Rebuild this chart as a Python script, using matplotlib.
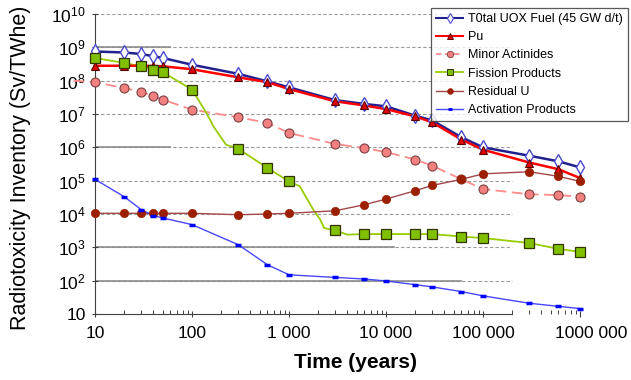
import numpy as np
import matplotlib
matplotlib.use('Agg')
import matplotlib.pyplot as plt
import matplotlib.transforms as mtrans
from matplotlib.lines import Line2D

plt.rcParams['font.family'] = ['Liberation Sans', 'DejaVu Sans']
plt.rcParams['mathtext.fontset'] = 'custom'
plt.rcParams['mathtext.rm'] = 'Liberation Sans'
plt.rcParams['mathtext.default'] = 'regular'

# time points carrying markers (years)
t_mark = [10, 20, 30, 40, 50, 100, 300, 600, 1000, 3000, 6000, 10000,
          20000, 30000, 60000, 100000, 300000, 600000, 1000000]

total = [7.5e8, 7e8, 6.3e8, 5.4e8, 4.8e8, 3e8, 1.6e8, 9.5e7, 6.3e7, 2.6e7,
         2e7, 1.7e7, 8.9e6, 6.4e6, 2e6, 1e6, 5.6e5, 3.8e5, 2.5e5]
pu = [2.8e8, 2.8e8, 2.8e8, 2.75e8, 2.7e8, 2.2e8, 1.26e8, 9e7, 5.6e7, 2.4e7,
      1.8e7, 1.4e7, 8.5e6, 5.6e6, 1.7e6, 8.5e5, 3.5e5, 2.2e5, 1.2e5]
minor_act = [9e7, 6e7, 4.6e7, 3.4e7, 2.7e7, 1.35e7, 8e6, 5.4e6, 2.7e6, 1.26e6,
             9.5e5, 7.2e5, 4.3e5, 2.8e5, 1.1e5, 5.6e4, 3.9e4, 3.7e4, 3.3e4]
fission = [4.8e8, 3.4e8, 2.7e8, 2.1e8, 1.8e8, 5.4e7, 9e5, 2.4e5, 9.5e4, 3.2e3,
           2.5e3, 2.5e3, 2.5e3, 2.5e3, 2.1e3, 1.9e3, 1.35e3, 9e2, 7.3e2]
resid_u = [1.05e4, 1.05e4, 1.05e4, 1.05e4, 1.05e4, 1.05e4, 9.5e3, 1.0e4, 1.05e4,
           1.25e4, 1.9e4, 2.8e4, 5e4, 7.2e4, 1.1e5, 1.6e5, 1.85e5, 1.35e5, 9.5e4]
activation = [1.1e5, 3.3e4, 1.35e4, 9e3, 7.6e3, 4.8e3, 1.2e3, 300, 150, 125,
              112, 98, 76, 65, 47, 35, 21, 17, 14.5]

# fission products curve, with the bends read between markers
t_fission_line = [10, 20, 30, 40, 50, 100, 141, 166, 224, 300, 600, 1000, 1290,
                  1780, 2100, 2300, 3000, 4000, 6000, 10000, 20000, 30000,
                  60000, 100000, 300000, 600000, 1000000]
fission_line = [4.8e8, 3.4e8, 2.7e8, 2.1e8, 1.8e8, 5.4e7, 1.07e7, 4.3e6, 1.2e6,
                9e5, 2.4e5, 9.5e4, 6.8e4, 1.35e4, 6.8e3, 3.8e3, 3.2e3, 2.4e3,
                2.5e3, 2.5e3, 2.5e3, 2.5e3, 2.1e3, 1.9e3, 1.35e3, 9e2, 7.3e2]

legend_labels = ['T0tal UOX Fuel (45 GW d/t)', 'Pu', 'Minor Actinides',
                 'Fission Products', 'Residual U', 'Activation Products']

x_ticks = [10, 100, 1000, 10000, 100000, 1000000]
x_ticklabels = ['10', '100', '1 000', '10 000', '100 000', '1000 000']
y_ticks = [10.0 ** k for k in range(1, 11)]
y_ticklabels = ['10'] + ['10$^{%d}$' % k for k in range(2, 11)]

fig = plt.figure(figsize=(6.31, 3.80), dpi=100)
ax = fig.add_axes([95 / 631, 1 - 314 / 380, 485 / 631, 300 / 380])
ax.set_xscale('log')
ax.set_yscale('log')
ax.set_xlim(10, 1e6)
ax.set_ylim(10, 1e10)

# grid: dashed decade lines, a few solid segments
for k in range(2, 11):
    ax.plot([10, 2e5], [10.0 ** k] * 2, color='#9a9a9a', lw=0.8,
            dashes=(3, 2), zorder=1)
for yv, xe in [(1e9, 60), (1e6, 60), (1e3, 12000), (1e2, 60000)]:
    ax.plot([10, xe], [yv, yv], color='#8c8c8c', lw=1.2, zorder=1.5)

styles = [
    dict(color='#20208f', lw=1.8, marker='d', ms=7, mfc='white', mec='#4a4ad0', mew=1.0),
    dict(color='#ff0000', lw=1.8, marker='^', ms=6, mfc='#e00000', mec='#5a0000', mew=0.8),
    dict(color='#ff8a8a', lw=1.3, marker='o', ms=6.5, mfc='#f28080', mec='#7a4040', mew=0.8,
         dashes=(6, 3)),
    dict(color='#99cc00', lw=1.3, marker='s', ms=6.5, mfc='#80c000', mec='#333300', mew=0.9),
    dict(color='#a34848', lw=1.0, marker='o', ms=6, mfc='#9c2000', mec='#9c2000', mew=0.5),
    dict(color='#4848ff', lw=1.0, marker='_', ms=5, mfc='#0000ff', mec='#0000ff', mew=2.5),
]

# lines
ax.plot(t_mark, total, color=styles[0]['color'], lw=1.8, zorder=3, clip_on=False)
ax.plot(t_mark, pu, color=styles[1]['color'], lw=1.8, zorder=3.1, clip_on=False)
ax.plot([6] + t_mark, [1.0e8] + minor_act, color=styles[2]['color'], lw=1.3,
        dashes=(6, 3), zorder=3, clip_on=False)
ax.plot(t_fission_line, fission_line, color=styles[3]['color'], lw=1.3, zorder=3)
ax.plot(t_mark, resid_u, color=styles[4]['color'], lw=1.0, zorder=3)
ax.plot(t_mark, activation, color=styles[5]['color'], lw=1.0, zorder=3)

# markers
series = [total, pu, minor_act, fission, resid_u, activation]
for i, (vals, st) in enumerate(zip(series, styles)):
    ax.plot(t_mark, vals, linestyle='none', marker=st['marker'], ms=st['ms'],
            mfc=st['mfc'], mec=st['mec'], mew=st['mew'], zorder=4 + i * 0.1,
            clip_on=False)

# axes styling
for s in ['top', 'right']:
    ax.spines[s].set_visible(False)
ax.spines['left'].set_color('#404040')
ax.spines['bottom'].set_color('#404040')
ax.spines['bottom'].set_bounds(10, 2e5)

ax.set_xticks(x_ticks)
ax.set_xticklabels(x_ticklabels)
ax.set_yticks(y_ticks)
ax.set_yticklabels(y_ticklabels)
ax.tick_params(which='major', direction='inout', length=5, width=0.8,
               color='#404040', labelsize=12.5, pad=4)
ax.tick_params(which='minor', direction='in', length=3, width=0.7, color='#404040')
ax.tick_params(axis='x', which='major', pad=6)

lbl = ax.get_xticklabels()[-1]
lbl.set_transform(lbl.get_transform() + mtrans.ScaledTranslation(0.11, 0, fig.dpi_scale_trans))

fig.text(21 / 631, 1 - 168 / 380, 'Radiotoxicity Inventory (Sv/TWhe)', rotation=90,
         ha='center', va='center', fontsize=15.5)
fig.text(355 / 631, 1 - 362 / 380, 'Time (years)', ha='center', va='center',
         fontsize=15, fontweight='bold')

handles = []
for st in styles:
    h = Line2D([0], [0], color=st['color'], lw=min(st['lw'], 1.5), marker=st['marker'],
               ms=st['ms'] * 0.7, mfc=st['mfc'], mec=st['mec'], mew=st['mew'] * 0.8)
    if 'dashes' in st:
        h.set_dashes((3, 2))
    handles.append(h)
leg = fig.legend(handles, legend_labels, loc='upper right',
                 bbox_to_anchor=(628 / 631, 1 - 8 / 380), fontsize=9,
                 frameon=True, fancybox=False, edgecolor='#303030',
                 handlelength=2.2, handletextpad=0.4, labelspacing=0.5,
                 borderpad=0.4, borderaxespad=0)
leg.get_frame().set_linewidth(0.9)

fig.savefig('out.png', dpi=100)
